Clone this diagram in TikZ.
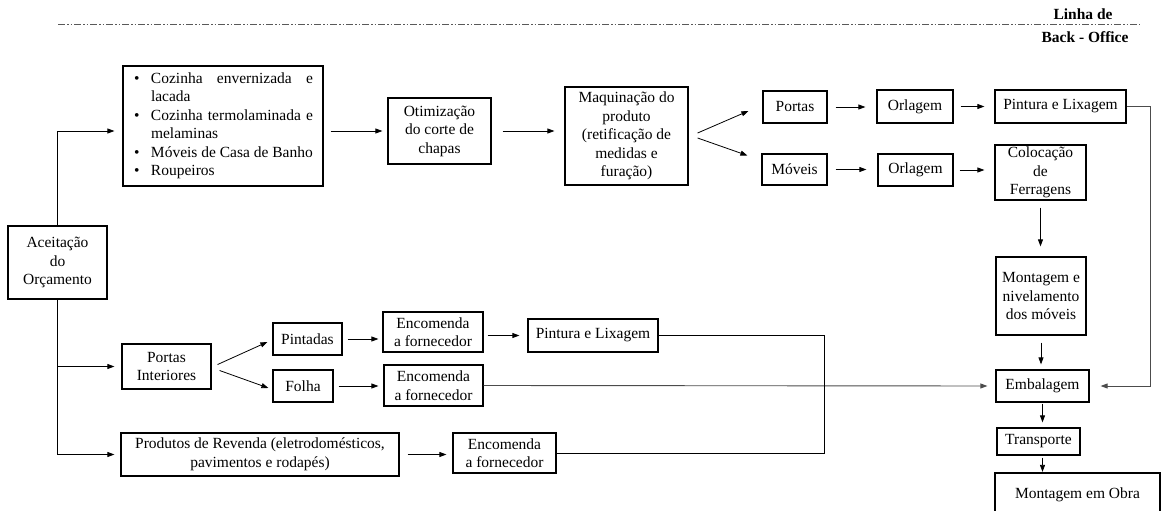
\documentclass[tikz,border=0pt]{standalone}
\usepackage{fontspec}
\setmainfont{Liberation Serif}
\usetikzlibrary{arrows.meta,calc}

\newcommand\fs{\fontsize{15.5}{18.5}\selectfont}
% one box from its corners (x1,y1) to (x2,y2), in pixel-like units
\newcommand\bx[6]{%
  \node[box, minimum width={(#4-#2)*1pt}, minimum height={(#5-#3)*1pt}]
    (#1) at ({(#2+#4)/2},{(#3+#5)/2}) {#6};}
\newcommand\bul{\makebox[18pt][l]{\hspace{1pt}\textbullet}}
\newcommand\ind{\hspace*{18pt}}

\tikzset{
  box/.style={draw, line width=1.2pt, inner sep=0pt, align=center, font=\fs},
  conn/.style={line width=0.8pt},
  gconn/.style={line width=0.9pt, draw=black!70},
  arr/.style={conn, -{Triangle[length=7pt,width=5pt]}},
  garr/.style={gconn, -{Triangle[length=7pt,width=5pt]}},
  lbl/.style={font=\fs\bfseries, inner sep=0pt},
  dashline/.style={line width=1pt, draw=black!65,
    dash pattern=on 7pt off 2pt on 1.5pt off 2pt on 1.5pt off 2pt},
}

\begin{document}
\begin{tikzpicture}[x=1pt, y=-1pt]
\useasboundingbox (0,0) rectangle (1162,511);
\clip (0,0) rectangle (1162,511);

% back-office line
\coordinate (dl0) at (58,25);
\coordinate (dl1) at (1140,25);
\draw[dashline] (dl0) -- (dl1);
\node[lbl] (lin1) at (1083,14) {Linha de};
\node[lbl] (lin2) at (1085,37) {Back - Office};

% boxes
\bx{acc}{8}{226}{107}{299}{Aceitação\\do\\Orçamento}
\node[box, minimum width=200pt, minimum height=120pt, align=left]
  (list) at (223,126) {%
  \bul\hbox to 162pt{Cozinha\hfill envernizada\hfill e}\\
  \ind lacada\\
  \bul\hbox to 162pt{Cozinha\hfill termolaminada\hfill e}\\
  \ind melaminas\\
  \bul Móveis de Casa de Banho\\
  \bul Roupeiros};
\bx{otim}{388}{98}{491}{164}{Otimização\\do corte de\\chapas}
\bx{maq}{565}{87}{688}{185}{Maquinação do\\produto\\(retificação de\\medidas e\\furação)}
\bx{portas}{763}{91}{827}{123}{Portas}
\bx{orl1}{877}{90}{953}{123}{Orlagem}
\bx{pint1}{995}{90}{1126}{123}{Pintura e Lixagem}
\bx{moveis}{762}{154}{827}{185}{Móveis}
\bx{orl2}{878}{154}{953}{186}{Orlagem}
\bx{coloc}{995}{145}{1086}{200}{Colocação\\de\\Ferragens}
\bx{mont}{996}{257}{1086}{335}{Montagem e\\nivelamento\\dos móveis}
\bx{emb}{996}{370}{1089}{402}{Embalagem}
\bx{transp}{997}{428}{1080}{455}{Transporte}
\bx{obra}{995}{473}{1160}{525}{\raisebox{12pt}{Montagem em Obra}}

\bx{pint}{122}{344}{211}{389}{Portas\\Interiores}
\bx{pintadas}{273}{323}{342}{355}{Pintadas}
\bx{folha}{273}{370}{333}{402}{Folha}
\bx{enc1}{383}{312}{483}{352}{Encomenda\\a fornecedor}
\bx{enc2}{384}{365}{483}{406}{Encomenda\\a fornecedor}
\bx{pint2}{528}{319}{658}{352}{Pintura e Lixagem}
\bx{prod}{121}{433}{399}{476}{Produtos de Revenda (eletrodomésticos,\\pavimentos e rodapés)}
\bx{enc3}{453}{433}{556}{473}{Encomenda\\a fornecedor}

% from the accepted budget
\draw[arr, shorten >=8pt] (acc.north) |- ([yshift=-5pt]list.west);
\draw[arr, shorten >=7pt] (acc.south) |- (pint.west);
\draw[arr, shorten >=6pt] (acc.south) |- (prod.west);

% kitchen / furniture line
\draw[arr, shorten <=7pt, shorten >=5pt] (otim.west -| list.east) -- (otim.west);
\draw[arr, shorten <=11pt, shorten >=10pt] (otim.east) -- (otim.east -| maq.west);
\draw[arr] ([xshift=9pt,yshift=3pt]maq.east) -- ([xshift=-14pt,yshift=-4pt]portas.west);
\draw[arr] ([xshift=9pt,yshift=-2pt]maq.east) -- ([xshift=-14pt,yshift=14pt]moveis.west);
\draw[arr, shorten <=8pt, shorten >=11pt] (portas.east) -- (portas.east -| orl1.west);
\draw[arr, shorten <=7pt, shorten >=10pt] (orl1.east) -- (orl1.east -| pint1.west);
\draw[arr, shorten <=8pt, shorten >=11pt] (moveis.east) -- (moveis.east -| orl2.west);
\draw[arr, shorten <=6pt, shorten >=10pt] (orl2.east) -- (orl2.east -| coloc.west);
\draw[arr, shorten <=7pt, shorten >=10pt] (coloc.south) -- (coloc.south |- mont.north);
\draw[arr, shorten <=7pt, shorten >=5pt] (mont.south) -- (mont.south |- emb.north);
\draw[arr, shorten <=1pt, shorten >=5pt] (emb.south) -- (emb.south |- transp.north);
\draw[arr, shorten <=2pt, shorten >=0.5pt] (transp.south -| emb.south) -- (emb.south |- obra.north);
\coordinate (rx) at (1150,0);
\draw[garr, shorten >=11pt] (pint1.east) -| (rx |- emb.east) -- (emb.east);

% interior doors
\draw[arr] ([xshift=6pt,yshift=2pt]pint.east) -- ([xshift=-5pt,yshift=-3pt]pintadas.west);
\draw[arr] ([xshift=8pt,yshift=-4pt]pint.east) -- ([xshift=-4pt,yshift=-2pt]folha.west);
\draw[arr, shorten <=5pt, shorten >=4pt] (pintadas.east) -- (pintadas.east -| enc1.west);
\draw[arr, shorten <=5pt, shorten >=5pt] (folha.east) -- (folha.east -| enc2.west);
\draw[arr, shorten <=4pt, shorten >=8pt] (pint2.west -| enc1.east) -- (pint2.west);
\draw[garr, shorten >=8pt] (enc2.east) -- (emb.west);

% resale products
\draw[arr, shorten <=8pt, shorten >=6pt] (prod.east) -- (prod.east -| enc3.west);
\coordinate (mx) at (824,0);
\draw[conn] (pint2.east) -| (mx |- enc3.east) -- (enc3.east);
\end{tikzpicture}
\end{document}
